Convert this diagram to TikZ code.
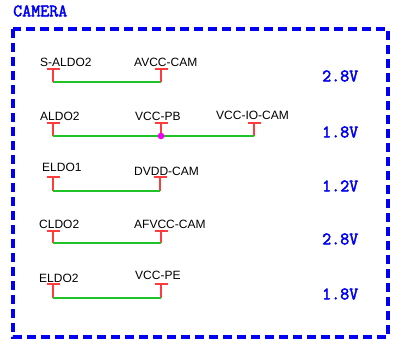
\documentclass[tikz,border=0pt]{standalone}
\usepackage{fontspec}
\setmainfont{Liberation Sans}
\setmonofont[AutoFakeBold=2.5]{Latin Modern Mono}
\usetikzlibrary{calc}

\definecolor{cblue}{RGB}{0,0,245}
\definecolor{cred}{RGB}{255,60,60}
\definecolor{cgreen}{RGB}{30,195,40}
\definecolor{cmag}{RGB}{240,0,240}

\tikzset{
 net/.style={cgreen, line width=1.5pt},
 tee/.style={cred, line width=1.8pt},
 sig/.style={anchor=west, inner sep=0pt, font=\fontsize{12}{14}\selectfont},
 volt/.style={anchor=west, inner sep=0pt, text=cblue, font=\ttfamily\bfseries\fontsize{17.5}{20}\selectfont},
}

% T-shaped pin: name, x, y of bar, y of net
\newcommand{\teepin}[4]{%
 \coordinate (#1) at (#2,#4);
 \draw[tee] (#2-6.5,#3) -- (#2+6.5,#3) (#2,#3) -- (#1);}

\begin{document}
\begin{tikzpicture}[x=1pt, y=-1pt]
 \useasboundingbox (0,0) rectangle (394,342);

 \node[volt] (title) at (13,11) {CAMERA};
 \draw[cblue, line width=3.2pt, dash pattern=on 9pt off 5pt] (13,29) rectangle (388,337);

 % row 1
 \node[sig] (saldo) at (40,62.5) {S-ALDO2};
 \node[sig] (avcc) at (134,62.5) {AVCC-CAM};
 \draw[net] (53,82) -- (161,82);
 \teepin{saldoP}{53}{69}{82}
 \teepin{avccP}{161}{69}{82}
 \node[volt] (v1) at (322,76) {2.8V};

 % row 2
 \node[sig] (aldo) at (40,116) {ALDO2};
 \node[sig] (vccpb) at (135,116) {VCC-PB};
 \node[sig] (vccio) at (216,115.5) {VCC-IO-CAM};
 \teepin{aldoP}{53}{123}{136}
 \teepin{vccpbP}{161}{123}{136}
 \teepin{vccioP}{254}{123}{136}
 \draw[net] (aldoP) -- (vccioP);
 \fill[cmag] (vccpbP) circle (3.3);
 \node[volt] (v2) at (322,132) {1.8V};

 % row 3
 \node[sig] (eldoa) at (42,167) {ELDO1};
 \node[sig] (dvdd) at (134,171) {DVDD-CAM};
 \teepin{eldoaP}{53}{177}{191}
 \teepin{dvddP}{160}{177}{191}
 \draw[net] (eldoaP) -- (dvddP);
 \node[volt] (v3) at (322,186) {1.2V};

 % row 4
 \node[sig] (cldo) at (39,224) {CLDO2};
 \node[sig] (afvcc) at (134,224) {AFVCC-CAM};
 \teepin{cldoP}{53}{231}{243}
 \teepin{afvccP}{161}{231}{243}
 \draw[net] (cldoP) -- (afvccP);
 \node[volt] (v4) at (322,239) {2.8V};

 % row 5
 \node[sig] (eldob) at (39,278) {ELDO2};
 \node[sig] (vccpe) at (135,275) {VCC-PE};
 \teepin{eldobP}{53}{284}{298}
 \teepin{vccpeP}{161}{284}{298}
 \draw[net] (eldobP) -- (vccpeP);
 \node[volt] (v5) at (322,294) {1.8V};
\end{tikzpicture}
\end{document}
